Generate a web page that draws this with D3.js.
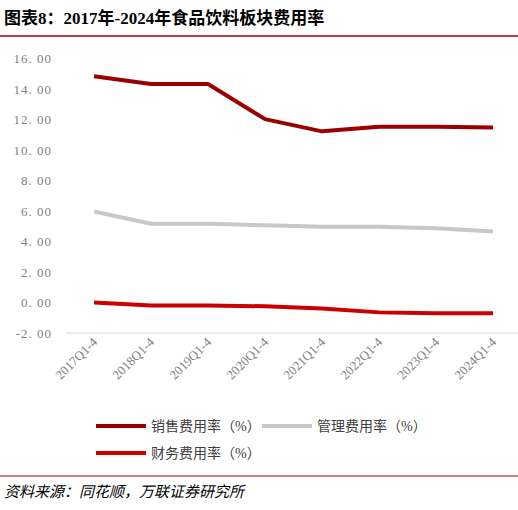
<!DOCTYPE html>
<html><head><meta charset="utf-8">
<script src="https://cdn.jsdelivr.net/npm/d3@7"></script>
<style>body{margin:0;background:#fff}</style>
</head><body>
<svg id="chart" width="518" height="510"></svg>
<script>
var categories = ["2017Q1-4","2018Q1-4","2019Q1-4","2020Q1-4","2021Q1-4","2022Q1-4","2023Q1-4","2024Q1-4"];
var salesRate = [14.8, 14.3, 14.3, 12.0, 11.2, 11.5, 11.5, 11.45];
var adminRate = [5.95, 5.15, 5.15, 5.05, 4.95, 4.95, 4.85, 4.65];
var financeRate = [0.0, -0.2, -0.2, -0.25, -0.4, -0.65, -0.7, -0.7];
var yTicks = [-2, 0, 2, 4, 6, 8, 10, 12, 14, 16];
var seriesNames = ["销售费用率（%）", "管理费用率（%）", "财务费用率（%）"];
var colors = ["#9b0000", "#c8c8c8", "#cc0000"];

var svg = d3.select("#chart");
var serif = "'Liberation Serif','Noto Sans CJK SC',serif";

// title
svg.append("text").attr("x", 4).attr("y", 24)
    .attr("font-family", serif).attr("font-weight", "bold").attr("font-size", 17)
    .text("图表8：2017年-2024年食品饮料板块费用率");
svg.append("line").attr("x1", 0).attr("x2", 518).attr("y1", 36).attr("y2", 36)
    .attr("stroke", "#9b0000").attr("stroke-width", 1.5);

var x = d3.scalePoint().domain(categories).range([94, 493]);
var y = d3.scaleLinear().domain([-2, 16]).range([333, 58]);

var g = svg.append("g");
g.selectAll(".ytick").data(yTicks).enter().append("text")
    .attr("x", 52).attr("y", function (d) { return y(d) + 5; })
    .attr("text-anchor", "end").attr("font-family", serif).attr("font-size", 13)
    .attr("fill", "#7f7f7f").attr("letter-spacing", 1)
    .text(function (d) { return d.toFixed(2).replace(".", ". "); });

g.append("line").attr("x1", 66).attr("x2", 518).attr("y1", y(-2)).attr("y2", y(-2))
    .attr("stroke", "#d9d9d9");

g.selectAll(".xtick").data(categories).enter().append("text")
    .attr("transform", function (d) { return "translate(" + (x(d) + 4) + "," + (y(-2) + 10) + ") rotate(-45)"; })
    .attr("text-anchor", "end").attr("font-family", serif).attr("font-size", 13)
    .attr("fill", "#7f7f7f").text(function (d) { return d; });

var line = d3.line()
    .x(function (d, i) { return x(categories[i]); })
    .y(function (d) { return y(d); });

[salesRate, adminRate, financeRate].forEach(function (s, k) {
    g.append("path").datum(s).attr("d", line).attr("fill", "none")
        .attr("stroke", colors[k]).attr("stroke-width", 4).attr("stroke-linejoin", "round");
});

// legend
var legendPos = [[96, 426], [262, 426], [96, 453]];
seriesNames.forEach(function (n, k) {
    var p = legendPos[k];
    svg.append("line").attr("x1", p[0]).attr("x2", p[0] + 50).attr("y1", p[1]).attr("y2", p[1])
        .attr("stroke", colors[k]).attr("stroke-width", 4);
    svg.append("text").attr("x", p[0] + 55).attr("y", p[1] + 5)
        .attr("font-family", serif).attr("font-size", 14).attr("fill", "#404040").text(n);
});

// source
svg.append("line").attr("x1", 0).attr("x2", 518).attr("y1", 476).attr("y2", 476)
    .attr("stroke", "#9b0000").attr("stroke-width", 1);
svg.append("text").attr("x", 4).attr("y", 497)
    .attr("font-family", serif).attr("font-size", 15).attr("font-style", "italic")
    .text("资料来源：同花顺，万联证券研究所");
</script>
</body></html>
